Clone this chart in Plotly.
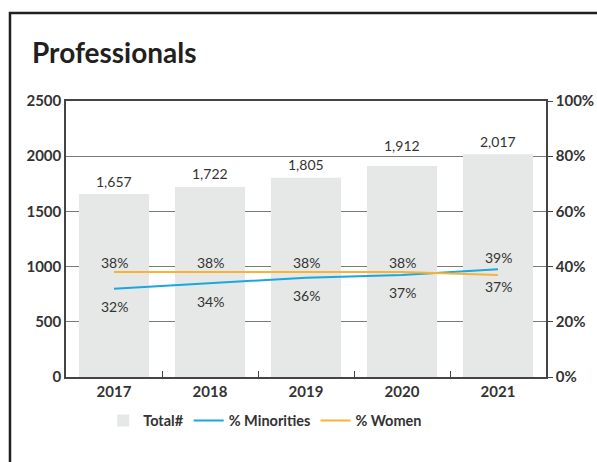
import plotly.graph_objects as go

years = ["2017", "2018", "2019", "2020", "2021"]
total = [1657, 1722, 1805, 1912, 2017]
minorities = [0.32, 0.34, 0.36, 0.37, 0.39]
women = [0.38, 0.38, 0.38, 0.38, 0.37]
y_ticks = [0, 500, 1000, 1500, 2000, 2500]
y2_ticks = [0, 0.2, 0.4, 0.6, 0.8, 1.0]

FONT = "Lato"
TXT = "#333333"
BAR = "#e5e8e7"
BLUE = "#19a7e0"
ORANGE = "#f9b233"

PX_PER_UNIT = 276 / 2500  # plot height / y range

fig = go.Figure()
fig.add_trace(go.Bar(
    x=years, y=total, name="Total#",
    marker=dict(color=BAR, line=dict(width=0)),
    width=0.73,
))
fig.add_trace(go.Scatter(
    x=years, y=minorities, name="% Minorities", yaxis="y2", mode="lines",
    line=dict(color=BLUE, width=2),
))
fig.add_trace(go.Scatter(
    x=years, y=women, name="% Women", yaxis="y2", mode="lines",
    line=dict(color=ORANGE, width=2),
))

annotations = []
for i, yr in enumerate(years):
    # value label above the bar; lift it clear of a gridline it would cross
    shift = 13
    for g in y_ticks:
        gap = (g - total[i]) * PX_PER_UNIT
        if 0 < gap < 20:
            shift = gap + 11
    annotations.append(dict(x=i, y=total[i], xref="x", yref="y", text=f"{total[i]:,}",
                            showarrow=False, yanchor="middle", yshift=shift,
                            font=dict(family=FONT, size=14, color=TXT)))
    m, w = minorities[i], women[i]
    m_above = m > w
    annotations.append(dict(x=i, y=m, xref="x", yref="y2", text=f"{round(m*100)}%",
                            showarrow=False, yshift=12 if m_above else -18,
                            font=dict(family=FONT, size=14, color=TXT)))
    annotations.append(dict(x=i, y=w, xref="x", yref="y2", text=f"{round(w*100)}%",
                            showarrow=False, yshift=-12 if m_above else 10,
                            font=dict(family=FONT, size=14, color=TXT)))

annotations.append(dict(xref="paper", yref="paper", x=-0.075, y=1.178,
                        xanchor="left", yanchor="middle", showarrow=False,
                        text="<b>Professionals</b>",
                        font=dict(family=FONT, size=28, color="#231f20")))

fig.update_layout(
    width=597, height=462,
    margin=dict(l=66, r=51, t=101, b=85, autoexpand=False),
    paper_bgcolor="white", plot_bgcolor="white",
    showlegend=True,
    legend=dict(orientation="h", x=0.415, xanchor="center", y=-0.1, yanchor="top",
                font=dict(family=FONT, size=14.5, color=TXT, weight="bold"),
                itemwidth=30, traceorder="normal"),
    xaxis=dict(type="category", range=[-0.5, 4.5], autorange=False,
               showline=True, linecolor="#444", linewidth=1.5,
               mirror=True, ticks="inside", tickson="boundaries", ticklen=6,
               tickcolor="#444", showgrid=False, automargin=False,
               tickfont=dict(family=FONT, size=15, color=TXT, weight="bold")),
    yaxis=dict(range=[0, 2500], tickvals=y_ticks, showline=True, linecolor="#444",
               linewidth=1.5, showgrid=True, gridcolor="#7a7a7a", gridwidth=1.3,
               ticks="", zeroline=False, automargin=False,
               tickfont=dict(family=FONT, size=15, color=TXT, weight="bold")),
    yaxis2=dict(range=[0, 1], tickvals=y2_ticks, tickformat=".0%", overlaying="y",
                side="right", showline=True, linecolor="#444", linewidth=1.5,
                ticks="outside", ticklen=5, tickcolor="#444", showgrid=False,
                zeroline=False, automargin=False,
                tickfont=dict(family=FONT, size=15, color=TXT, weight="bold")),
    annotations=annotations,
    shapes=[dict(type="rect", xref="paper", yref="paper",
                 x0=-0.1167, y0=-1.0, x1=2.0, y1=1.319,
                 line=dict(color="#231f20", width=2.5), fillcolor="rgba(0,0,0,0)",
                 layer="above")],
)

fig.write_html("out.html", config={"displayModeBar": False},
               post_script="document.body.style.margin='0';")
